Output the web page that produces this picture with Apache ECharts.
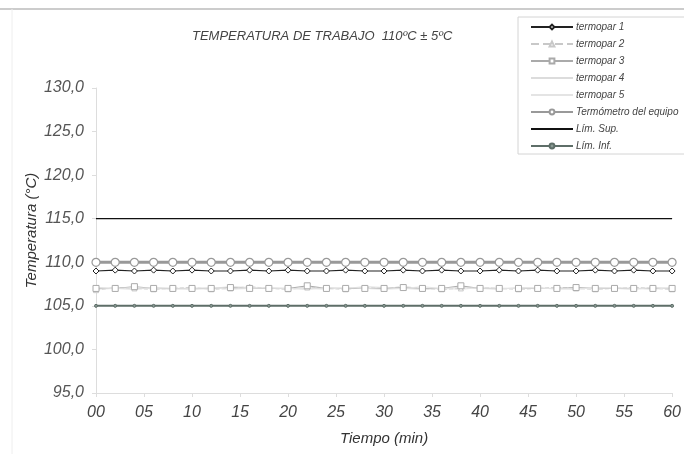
<!DOCTYPE html>
<html><head><meta charset="utf-8">
<script src="https://cdn.jsdelivr.net/npm/echarts@6/dist/echarts.min.js"></script>
<style>html,body{margin:0;padding:0;background:#fff}#c{width:684px;height:454px}</style>
</head><body><div id="c"></div>
<script>
const times = [0,2,4,6,8,10,12,14,16,18,20,22,24,26,28,30,32,34,36,38,40,42,44,46,48,50,52,54,56,58,60];
const termopar1 = [109.0,109.1,109.0,109.1,109.0,109.1,109.0,109.0,109.1,109.0,109.1,109.0,109.0,109.1,109.0,109.0,109.1,109.0,109.1,109.0,109.0,109.1,109.0,109.1,109.0,109.0,109.1,109.0,109.1,109.0,109.0];
const termopar2 = [106.8,107.1,107.0,106.9,107.0,107.1,106.9,107.0,107.2,107.0,106.9,107.1,107.0,106.9,107.1,107.0,107.2,107.0,106.9,107.0,107.1,107.0,106.9,107.0,107.1,107.0,106.9,107.0,107.1,107.0,106.9];
const termopar3 = [107.0,107.0,107.2,107.0,107.0,107.0,107.0,107.1,107.0,107.0,107.0,107.3,107.0,107.0,107.0,107.0,107.1,107.0,107.0,107.3,107.0,107.0,107.0,107.0,107.0,107.1,107.0,107.0,107.0,107.0,107.0];
const termopar4 = [107.1,107.0,106.9,107.1,107.0,106.9,107.0,107.2,107.1,107.0,107.0,106.9,107.1,107.0,107.2,107.1,107.0,106.9,107.0,107.1,107.0,106.9,107.1,107.0,107.0,106.9,107.1,107.0,106.9,107.1,107.0];
const termopar5 = [106.9,107.0,107.1,107.0,106.9,107.0,107.1,106.9,107.0,107.1,107.0,107.0,106.9,107.1,107.0,106.9,107.0,107.2,107.0,106.9,107.1,107.0,107.0,107.1,106.9,107.0,107.0,107.1,107.0,106.9,107.1];
const termometro = [110.0,110.0,110.0,110.0,110.0,110.0,110.0,110.0,110.0,110.0,110.0,110.0,110.0,110.0,110.0,110.0,110.0,110.0,110.0,110.0,110.0,110.0,110.0,110.0,110.0,110.0,110.0,110.0,110.0,110.0,110.0];
const limSup = [115,115,115,115,115,115,115,115,115,115,115,115,115,115,115,115,115,115,115,115,115,115,115,115,115,115,115,115,115,115,115];
const limInf = [105,105,105,105,105,105,105,105,105,105,105,105,105,105,105,105,105,105,105,105,105,105,105,105,105,105,105,105,105,105,105];
const seriesNames = ['termopar 1','termopar 2','termopar 3','termopar 4','termopar 5','Termómetro del equipo','Lím. Sup.','Lím. Inf.'];

const pair = arr => times.map((t,i)=>[t,arr[i]]);
const font = 'Liberation Sans, Arial, sans-serif';
const chart = echarts.init(document.getElementById('c'));
function mk(name, data, o){
  return {name:name, type:'line', data:pair(data), animation:false, z:o.z||2,
    symbol:o.symbol||'none', symbolSize:o.size||4,
    lineStyle:{color:o.color, width:o.width||1, type:o.type||'solid'},
    itemStyle:{color:o.fill||'#fff', borderColor:o.color, borderWidth:o.bw||1}};
}
const noSym = {'termopar 4':1,'termopar 5':1,'Lím. Sup.':1};
chart.setOption({
  animation:false,
  backgroundColor:'#fff',
  textStyle:{fontFamily:font},
  title:{text:'TEMPERATURA DE TRABAJO  110ºC ± 5ºC', left:187, top:25,
    textStyle:{fontSize:13, fontWeight:'normal', fontStyle:'italic', color:'#444', fontFamily:font}},
  graphic:[
    {type:'line', shape:{x1:0,y1:9,x2:684,y2:9}, style:{stroke:'#bbb', lineWidth:1.5}},
    {type:'line', shape:{x1:12,y1:9,x2:12,y2:454}, style:{stroke:'#eee', lineWidth:1}},
    {type:'rect', shape:{x:518,y:17,width:170,height:137}, style:{fill:'#fff', stroke:'#d4d4d4', lineWidth:1}, z:-1}
  ],
  legend:{orient:'vertical', left:530, top:22, padding:0, itemWidth:42, itemHeight:6, itemGap:7,
    textStyle:{fontSize:10, fontStyle:'italic', color:'#444', fontFamily:font, padding:[0,0,0,-2]},
    data:seriesNames.map(function(n){ return noSym[n] ? {name:n, itemStyle:{color:'rgba(0,0,0,0)', borderColor:'rgba(0,0,0,0)', borderWidth:0}} : {name:n}; })},
  grid:{left:96, right:6, top:88, bottom:61},
  xAxis:{type:'value', min:0, max:60, interval:5,
    name:'Tiempo (min)', nameLocation:'middle', nameGap:38, nameMoveOverlap:false,
    nameTextStyle:{fontSize:15, fontStyle:'italic', color:'#333', fontFamily:font},
    axisLine:{lineStyle:{color:'#ddd'}}, axisTick:{length:4, lineStyle:{color:'#ddd'}},
    splitLine:{show:false},
    axisLabel:{fontSize:16, fontStyle:'italic', color:'#444', margin:12, fontFamily:font,
      formatter:function(v){return (v<10?'0':'')+v;}}},
  yAxis:{type:'value', min:95, max:130, interval:5,
    name:'Temperatura (°C)', nameLocation:'middle', nameGap:57, nameRotate:90, nameMoveOverlap:false,
    nameTextStyle:{fontSize:15, fontStyle:'italic', color:'#333', fontFamily:font, padding:[0,0,0,20]},
    axisLine:{show:true, lineStyle:{color:'#ddd'}}, axisTick:{show:true, length:4, lineStyle:{color:'#ddd'}},
    splitLine:{show:false},
    axisLabel:{fontSize:16, fontStyle:'italic', color:'#555', margin:12, fontFamily:font,
      formatter:function(v){return v.toFixed(1).replace('.',',');}}},
  series:[
    mk(seriesNames[0], termopar1, {color:'#222', symbol:'diamond', size:6, width:1.2, z:5}),
    mk(seriesNames[1], termopar2, {color:'#c8c8c8', type:'dashed', symbol:'triangle', size:5}),
    mk(seriesNames[2], termopar3, {color:'#aaa', symbol:'rect', size:6}),
    mk(seriesNames[3], termopar4, {color:'#dcdcdc'}),
    mk(seriesNames[4], termopar5, {color:'#e4e4e4'}),
    mk(seriesNames[5], termometro, {color:'#999', symbol:'circle', size:8, width:3, bw:1.2, z:4}),
    mk(seriesNames[6], limSup, {color:'#111', width:1.3}),
    mk(seriesNames[7], limInf, {color:'#5e6e68', symbol:'circle', size:3, width:2, fill:'#8a9a94'})
  ]
});
</script></body></html>
